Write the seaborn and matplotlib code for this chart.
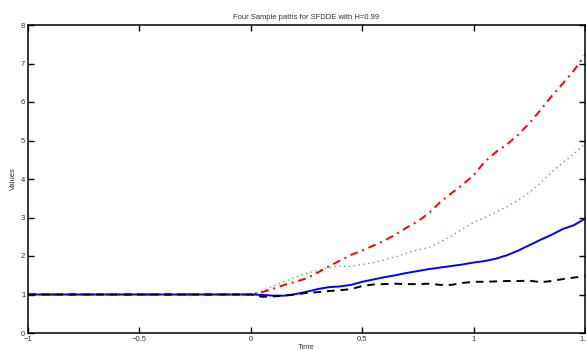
import matplotlib
matplotlib.use("Agg")
import matplotlib.pyplot as plt
import seaborn as sns
import pandas as pd

time = [-1.0, -0.5, 0.0, 0.05, 0.1, 0.15, 0.2, 0.25, 0.3, 0.35, 0.4, 0.45, 0.5,
        0.55, 0.6, 0.65, 0.7, 0.75, 0.8, 0.85, 0.9, 0.95, 1.0, 1.05, 1.1, 1.15,
        1.2, 1.25, 1.3, 1.35, 1.4, 1.45, 1.5]

path_black = [1.0, 1.0, 1.0, 0.94, 0.95, 0.97, 1.0, 1.04, 1.06, 1.09, 1.11, 1.14, 1.22,
              1.26, 1.27, 1.28, 1.27, 1.27, 1.28, 1.25, 1.25, 1.30, 1.33, 1.33, 1.34, 1.35,
              1.35, 1.36, 1.32, 1.35, 1.40, 1.44, 1.47]
path_blue = [1.0, 1.0, 1.0, 0.99, 0.97, 0.97, 1.01, 1.07, 1.14, 1.19, 1.21, 1.25, 1.33,
             1.39, 1.45, 1.50, 1.56, 1.61, 1.66, 1.70, 1.74, 1.78, 1.83, 1.87, 1.93, 2.02,
             2.14, 2.28, 2.42, 2.55, 2.70, 2.80, 2.97]
path_green = [1.0, 1.0, 1.0, 1.09, 1.22, 1.33, 1.45, 1.55, 1.62, 1.70, 1.74, 1.73, 1.78,
              1.83, 1.90, 1.98, 2.08, 2.16, 2.22, 2.36, 2.52, 2.70, 2.87, 3.00, 3.14, 3.28,
              3.45, 3.65, 3.90, 4.18, 4.42, 4.65, 4.92]
path_red = [1.0, 1.0, 1.0, 1.06, 1.15, 1.25, 1.33, 1.42, 1.57, 1.73, 1.88, 2.03, 2.14,
            2.27, 2.40, 2.56, 2.74, 2.90, 3.12, 3.40, 3.63, 3.85, 4.10, 4.45, 4.70, 4.90,
            5.15, 5.45, 5.79, 6.15, 6.48, 6.82, 7.22]

x_ticks = [-1, -0.5, 0, 0.5, 1, 1.5]
x_ticklabels = ["\u22121", "\u22120.5", "0", "0.5", "1", "1.5"]
y_ticks = [0, 1, 2, 3, 4, 5, 6, 7, 8]

sns.set_style("ticks")
plt.rcParams['font.family'] = ['Liberation Sans', 'DejaVu Sans']

fig = plt.figure(figsize=(5.86, 3.5), dpi=100)
ax = fig.add_axes([28/586, 17/350, 557/586, 308/350])

df = pd.DataFrame({"Time": time, "black": path_black, "blue": path_blue,
                   "green": path_green, "red": path_red})

sns.lineplot(data=df, x="Time", y="green", ax=ax, color=(0.35, 0.7, 0.35),
             linestyle=(0, (1, 2.5)), linewidth=1.0)
sns.lineplot(data=df, x="Time", y="red", ax=ax, color="red",
             linestyle=(0, (4, 2.5, 1, 2.5)), linewidth=1.4)
sns.lineplot(data=df, x="Time", y="blue", ax=ax, color="blue",
             linestyle="-", linewidth=1.4)
sns.lineplot(data=df, x="Time", y="black", ax=ax, color="black",
             linestyle=(0, (4, 3)), linewidth=1.4)

ax.set_xlim(-1, 1.5)
ax.set_ylim(0, 8)
ax.set_xticks(x_ticks)
ax.set_xticklabels(x_ticklabels)
ax.set_yticks(y_ticks)
ax.tick_params(direction="in", length=4, width=1, labelsize=5.5, pad=2,
               top=True, right=True, color="black", labelcolor="#333333")
for s in ax.spines.values():
    s.set_visible(True)
    s.set_linewidth(1.1)
    s.set_color("black")
ax.set_xlabel("Time", fontsize=5.5, labelpad=1, color="#333333")
ax.set_ylabel("Values", fontsize=5.5, labelpad=3, color="#333333")
ax.set_title("Four Sample paths for SFDDE with H=0.99", fontsize=5.5, pad=4, color="#333333")

fig.savefig("out.png", dpi=100)
